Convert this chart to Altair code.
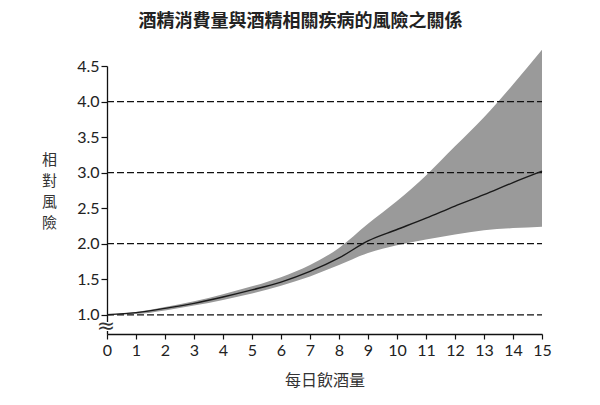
import altair as alt
import pandas as pd

# Daily drinks (x) and relative risk: central estimate with lower/upper bounds
drinks = list(range(16))
rr_mid = [1.00, 1.03, 1.09, 1.16, 1.25, 1.35, 1.46, 1.61, 1.80, 2.04, 2.20, 2.36, 2.53, 2.69, 2.86, 3.02]
rr_low = [1.00, 1.01, 1.06, 1.13, 1.21, 1.30, 1.41, 1.54, 1.70, 1.87, 1.98, 2.06, 2.13, 2.19, 2.22, 2.24]
rr_high = [1.00, 1.04, 1.11, 1.19, 1.29, 1.40, 1.53, 1.70, 1.94, 2.28, 2.60, 2.96, 3.37, 3.78, 4.24, 4.73]

grid_levels = [1.0, 2.0, 3.0, 4.0]
y_ticks = [1.0, 1.5, 2.0, 2.5, 3.0, 3.5, 4.0, 4.5]
x_ticks = list(range(16))

CJK = "Noto Sans CJK TC"
NUM = "Lato"

df = pd.DataFrame({"drinks": drinks, "mid": rr_mid, "low": rr_low, "high": rr_high})
grid_df = pd.DataFrame({"level": grid_levels, "x0": [0] * 4, "x1": [15] * 4})
single = pd.DataFrame({"k": [0]})

x_scale = alt.Scale(domain=[0, 15], nice=False, zero=False)
y_scale = alt.Scale(domain=[0.73, 4.5], nice=False, zero=False)

x_axis = alt.Axis(
    values=x_ticks, format="d", grid=False, labelOverlap=False,
    domainColor="#111", domainWidth=1.3, tickColor="#111", tickWidth=1.2, tickSize=5,
    labelFont=NUM, labelFontSize=16, labelColor="#222", labelPadding=3,
    title="每日飲酒量", titleFont=CJK, titleFontSize=16, titleFontWeight="normal",
    titleColor="#333", titlePadding=14, labelFlush=False,
)
y_axis = alt.Axis(
    values=y_ticks, format=".1f", grid=False, labelOverlap=False,
    domainColor="#111", domainWidth=1.3, tickColor="#111", tickWidth=1.2, tickSize=6,
    labelFont=NUM, labelFontSize=16, labelColor="#222", labelPadding=2,
    title=["相", "對", "風", "險"], titleFont=CJK, titleFontSize=15, titleFontWeight="normal",
    titleColor="#333", titleAngle=0, titleAlign="center", titleBaseline="top",
    titleX=-58, titleY=86, titleLineHeight=21,
)

band = alt.Chart(df).mark_area(color="#9a9a9a", opacity=1, clip=False, interpolate="monotone").encode(
    x=alt.X("drinks:Q", scale=x_scale, axis=x_axis),
    y=alt.Y("low:Q", scale=y_scale, axis=y_axis),
    y2="high:Q",
)

grid = alt.Chart(grid_df).mark_rule(color="#111", strokeDash=[7, 3], strokeWidth=1.3).encode(
    x=alt.X("x0:Q", scale=x_scale, axis=x_axis),
    x2="x1:Q",
    y=alt.Y("level:Q", scale=y_scale, axis=y_axis),
)

line = alt.Chart(df).mark_line(color="#1a1a1a", strokeWidth=1.4, interpolate="monotone").encode(
    x=alt.X("drinks:Q", scale=x_scale, axis=x_axis),
    y=alt.Y("mid:Q", scale=y_scale, axis=y_axis),
)

# axis break marker on the y axis just below 1.0
break_bg = alt.Chart(single).mark_rect(color="white").encode(
    x=alt.value(-7), x2=alt.value(7), y=alt.value(256), y2=alt.value(265)
)
break_mark = alt.Chart(single).mark_text(text="≈", font="DejaVu Sans", fontSize=22, color="#333").encode(
    x=alt.value(-1), y=alt.value(260)
)

chart = alt.layer(band, grid, line, break_bg, break_mark).properties(
    width=435,
    height=268,
    title=alt.TitleParams(
        "酒精消費量與酒精相關疾病的風險之關係",
        font=CJK, fontSize=18, fontWeight="bold", color="#222",
        anchor="middle", dx=-24, offset=19,
    ),
    autosize=alt.AutoSizeParams(type="none"),
    padding={"left": 107, "top": 66, "right": 58, "bottom": 71},
).configure_view(stroke=None).configure_axis(labelOverlap=False)

chart.save("out.html", embed_options={"renderer": "svg", "actions": False})
